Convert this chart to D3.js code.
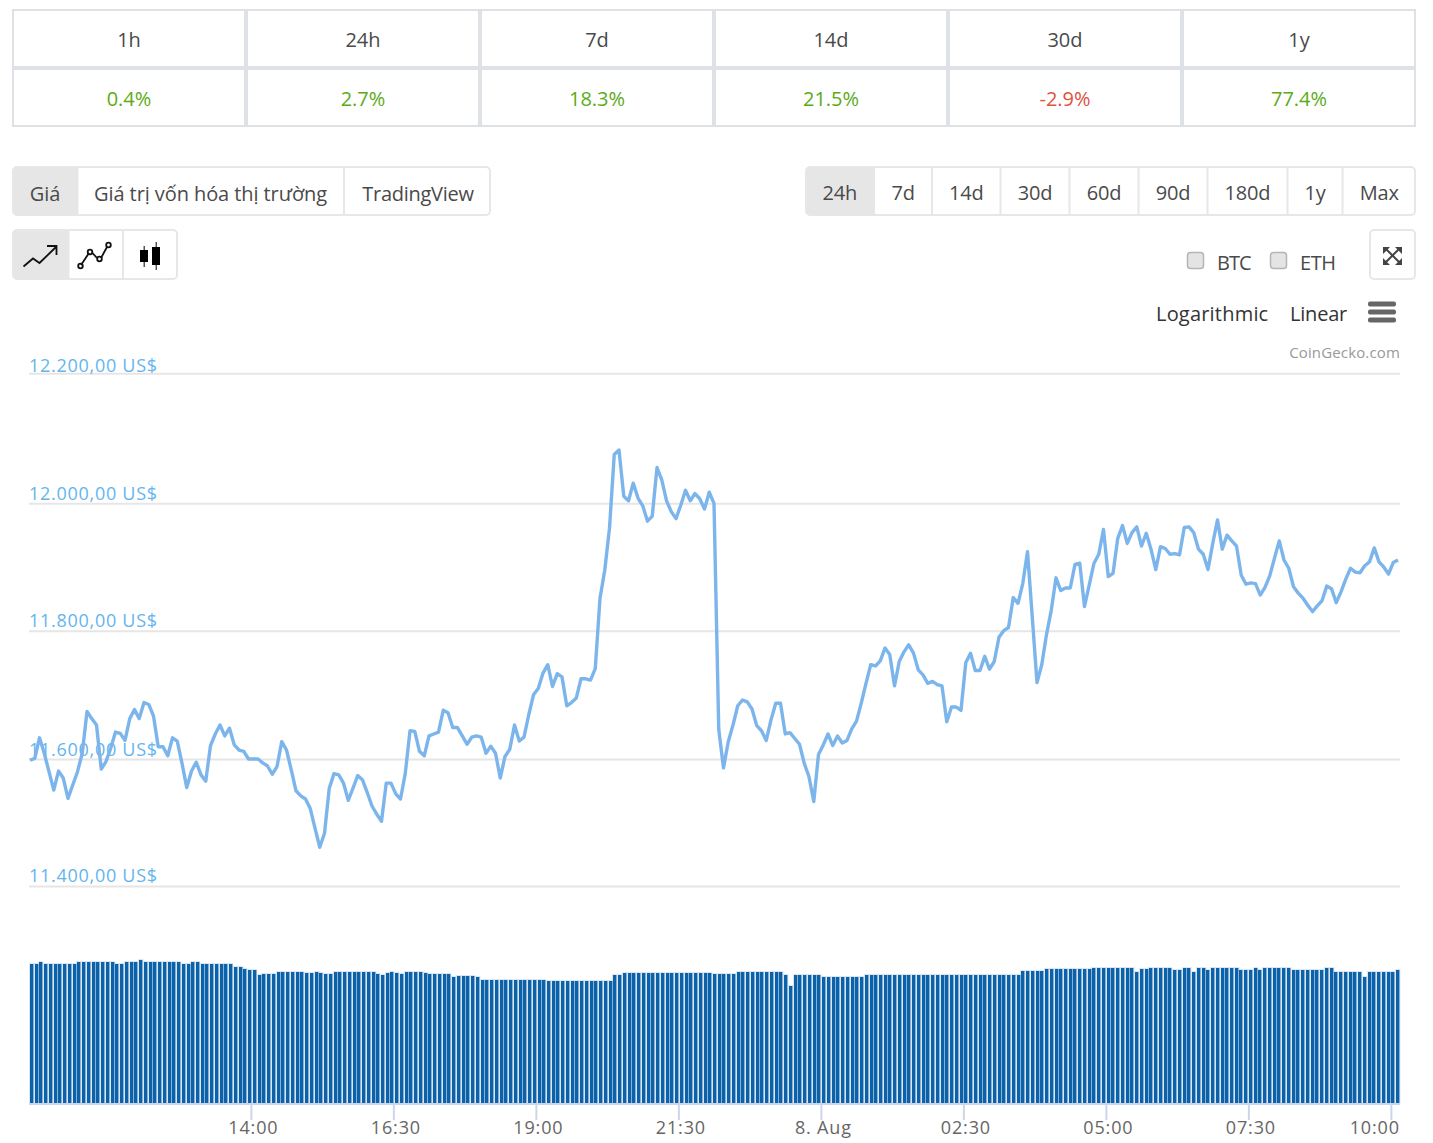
<!DOCTYPE html>
<html><head><meta charset="utf-8">
<script src="https://cdn.jsdelivr.net/npm/d3@7/dist/d3.min.js"></script>
<style>
html,body{margin:0;padding:0;background:#fff;overflow:hidden}
svg{display:block}
text{font-family:"Open Sans","Noto Sans",sans-serif}
</style></head><body>
<svg id="c" width="1433" height="1143"></svg>
<script>
const periods=["1h","24h","7d","14d","30d","1y"];
const changes=[0.4,2.7,18.3,21.5,-2.9,77.4];
const viewTabs=["Giá","Giá trị vốn hóa thị trường","TradingView"];
const rangeTabs=["24h","7d","14d","30d","60d","90d","180d","1y","Max"];
const compareCoins=["BTC","ETH"];
const scaleTabs=["Logarithmic","Linear"];
const priceTicks=[11400,11600,11800,12000,12200];
const timeTicks=["2020-08-07T14:00Z","2020-08-07T16:30Z","2020-08-07T19:00Z","2020-08-07T21:30Z","2020-08-08T00:00Z","2020-08-08T02:30Z","2020-08-08T05:00Z","2020-08-08T07:30Z","2020-08-08T10:00Z"];
const timeLabels=["14:00","16:30","19:00","21:30","8. Aug","02:30","05:00","07:30","10:00"];
const price=[11598,11601,11633,11609,11580,11551,11581,11570,11538,11559,11580,11609,11674,11663,11653,11584,11596,11617,11642,11640,
11629,11663,11677,11663,11688,11685,11667,11619,11619,11605,11633,11628,11593,11555,11581,11595,11575,11565,11621,11639,
11653,11636,11648,11622,11614,11612,11600,11600,11600,11594,11589,11576,11588,11627,11614,11583,11550,11542,11537,11522,
11491,11461,11483,11554,11577,11575,11562,11535,11554,11574,11567,11547,11526,11513,11502,11562,11562,11545,11537,11577,
11644,11643,11612,11605,11636,11639,11642,11676,11672,11649,11649,11636,11623,11634,11636,11634,11609,11620,11609,11570,
11604,11615,11653,11628,11634,11669,11700,11710,11734,11747,11713,11733,11728,11683,11688,11695,11725,11725,11723,11741,
11851,11895,11961,12075,12082,12011,12004,12031,12008,11996,11972,11980,12055,12036,12004,11987,11976,11997,12020,12004,
12015,12007,11991,12017,12000,11646,11586,11627,11653,11683,11692,11689,11678,11652,11644,11629,11661,11687,11687,11639,
11641,11632,11623,11593,11572,11533,11607,11622,11639,11621,11636,11625,11629,11647,11659,11687,11718,11747,11745,11753,
11773,11763,11714,11752,11767,11778,11765,11739,11731,11718,11721,11716,11714,11658,11681,11681,11676,11750,11765,11738,
11738,11760,11740,11752,11790,11800,11805,11852,11843,11874,11924,11822,11719,11747,11794,11832,11883,11863,11867,11867,
11904,11906,11838,11872,11906,11920,11959,11885,11890,11945,11965,11937,11954,11963,11933,11953,11928,11896,11932,11929,
11920,11921,11919,11962,11963,11954,11928,11920,11896,11937,11974,11928,11950,11941,11933,11887,11873,11875,11874,11856,
11868,11886,11914,11941,11911,11898,11869,11859,11851,11840,11830,11839,11847,11870,11866,11844,11861,11881,11898,11892,
11891,11902,11908,11930,11908,11900,11889,11907,11911];
const volume=[14.0,14.0,14.2,14.0,14.0,14.0,14.0,14.0,14.0,14.0,14.2,14.2,14.2,14.2,14.2,14.2,14.2,14.2,14.0,14.0,
14.2,14.2,14.2,14.35,14.2,14.2,14.2,14.2,14.2,14.2,14.2,14.2,14.0,14.0,14.2,14.2,14.0,14.0,14.0,14.0,
14.0,14.0,14.0,13.7,13.7,13.5,13.35,13.35,12.85,13.0,13.0,13.0,13.2,13.2,13.2,13.2,13.2,13.2,13.1,13.1,
13.2,13.1,13.0,13.0,13.2,13.2,13.2,13.2,13.2,13.2,13.2,13.2,13.2,13.0,12.9,13.1,13.2,13.1,13.0,13.2,
13.2,13.2,13.2,13.1,13.0,13.0,13.0,13.0,13.0,12.7,12.8,12.8,12.8,12.8,12.7,12.4,12.4,12.4,12.4,12.4,
12.4,12.4,12.4,12.4,12.4,12.4,12.4,12.4,12.4,12.3,12.3,12.3,12.3,12.3,12.3,12.3,12.3,12.3,12.3,12.3,
12.3,12.3,12.3,12.9,12.9,13.1,13.1,13.1,13.1,13.1,13.1,13.1,13.1,13.1,13.1,13.1,13.1,13.1,13.1,13.1,
13.1,13.1,13.1,13.1,13.0,13.0,13.0,13.0,13.0,13.2,13.2,13.2,13.2,13.2,13.2,13.2,13.2,13.2,13.2,12.9,
11.8,12.9,12.85,12.85,12.85,12.85,12.85,12.7,12.7,12.7,12.7,12.7,12.7,12.7,12.7,12.7,12.85,12.85,12.85,12.85,
12.85,12.85,12.85,12.85,12.85,12.85,12.85,12.85,12.85,12.85,12.85,12.85,12.85,12.85,12.85,12.85,12.85,12.85,12.85,12.85,
12.85,12.85,12.85,12.85,12.85,12.85,12.85,12.85,12.85,13.3,13.3,13.3,13.3,13.3,13.5,13.5,13.5,13.5,13.5,13.5,
13.5,13.5,13.5,13.5,13.6,13.6,13.6,13.6,13.6,13.6,13.6,13.6,13.6,13.2,13.5,13.5,13.52,13.52,13.52,13.52,
13.52,13.35,13.35,13.52,13.52,13.18,13.52,13.52,13.35,13.52,13.52,13.52,13.52,13.52,13.52,13.35,13.35,13.35,13.52,13.35,
13.52,13.52,13.52,13.52,13.52,13.52,13.35,13.35,13.35,13.35,13.35,13.35,13.35,13.52,13.52,13.18,13.18,13.18,13.18,13.18,
13.18,12.68,13.18,13.18,13.18,13.18,13.18,13.18,13.35];

const svg=d3.select("#c");
const textCol="#4a4a4a", grid="#e6e6e6", border="#e7e7e7";
const font=20;

// percentage table
const tblX=d3.scaleBand().domain(periods).range([12,1416]);
const tbl=svg.append("g");
tbl.append("rect").attr("x",13).attr("y",10).attr("width",1402).attr("height",116).attr("fill","#fff").attr("stroke","#dee2e6").attr("stroke-width",2);
tbl.append("line").attr("x1",12).attr("x2",1416).attr("y1",68).attr("y2",68).attr("stroke","#dee2e6").attr("stroke-width",4);
periods.slice(1).forEach(p=>tbl.append("line").attr("x1",tblX(p)).attr("x2",tblX(p)).attr("y1",10).attr("y2",126).attr("stroke","#dee2e6").attr("stroke-width",4));
periods.forEach((p,i)=>{
  const cx=tblX(p)+tblX.bandwidth()/2;
  tbl.append("text").attr("x",cx).attr("y",47).attr("text-anchor","middle").attr("font-size",font).attr("fill",textCol).text(p);
  tbl.append("text").attr("x",cx).attr("y",106).attr("text-anchor","middle").attr("font-size",font)
    .attr("fill",changes[i]<0?"#e15241":"#5bab17").text(changes[i]+"%");
});

// button groups
function group(x0,x1,y0,y1,edges,labels,baseline){
  const g=svg.append("g");
  g.append("rect").attr("x",x0+1).attr("y",y0+1).attr("width",x1-x0-2).attr("height",y1-y0-2).attr("rx",4).attr("fill","#fff").attr("stroke",border).attr("stroke-width",2);
  g.append("path").attr("d",`M${edges[1]} ${y0+1}H${x0+5}Q${x0+1} ${y0+1} ${x0+1} ${y0+5}V${y1-5}Q${x0+1} ${y1-1} ${x0+5} ${y1-1}H${edges[1]}Z`).attr("fill","#e6e6e6").attr("stroke",border).attr("stroke-width",1);
  edges.slice(2,-1).forEach(e=>g.append("line").attr("x1",e).attr("x2",e).attr("y1",y0+1).attr("y2",y1-1).attr("stroke",border).attr("stroke-width",2));
  if(labels) labels.forEach((l,i)=>g.append("text").attr("x",(edges[i]+edges[i+1])/2-(l.length>20?0.5:l.length>10?-0.5:0)).attr("y",baseline).attr("text-anchor","middle").attr("font-size",font)
    .attr("letter-spacing",l.length>20?-0.08:l.length>10?-0.27:-0.15).attr("fill",textCol).text(l));
}
group(12,491,166,216,[12,78,344,491],viewTabs,201);
group(805,1416,166,216,[805,874.5,932,1000.5,1069.5,1138.5,1207.5,1287.5,1342.5,1416],rangeTabs,200);
group(12,178,229,280,[12,69,123,178],null);

// chart type icons
const ic=svg.append("g").attr("fill","none").attr("stroke","#111").attr("stroke-width",1.8);
ic.append("path").attr("d","M23.5 266.5L33 258.5L39.5 263L56 247M47 246H56.5V255");
ic.append("path").attr("d","M81 265L89 253M92 252.500L97 258M101 258L107 247");
[[80.5,266],[90,252],[99.500,259],[108.500,245]].forEach(p=>ic.append("circle").attr("cx",p[0]).attr("cy",p[1]).attr("r",2.3));
const cs=svg.append("g");
cs.append("rect").attr("x",143.500).attr("y",246).attr("width",1.5).attr("height",21).attr("fill","#555");
cs.append("rect").attr("x",155.500).attr("y",242).attr("width",1.500).attr("height",28).attr("fill","#555");
cs.append("rect").attr("x",140).attr("y",250).attr("width",8).attr("height",12).attr("fill","#000");
cs.append("rect").attr("x",152).attr("y",247).attr("width",8).attr("height",18).attr("fill","#000");

// expand button
svg.append("rect").attr("x",1370).attr("y",230).attr("width",45).attr("height",49).attr("rx",4).attr("fill","#fff").attr("stroke",border).attr("stroke-width",2);
svg.append("path").attr("d","M1385 248L1400 263M1400 248L1385 263").attr("stroke","#444").attr("stroke-width",2).attr("fill","none");
svg.append("path").attr("d","M1383 247H1390L1383 254ZM1402 247H1395L1402 254ZM1383 265H1390L1383 258ZM1402 265H1395L1402 258Z").attr("fill","#444");

// compare checkboxes
[1187,1270].forEach((x,i)=>{
  svg.append("rect").attr("x",x+.5).attr("y",252.500).attr("width",16).attr("height",16).attr("rx",3).attr("fill","#e4e4e4").attr("stroke","#b5b5b5").attr("stroke-width",1.5);
  svg.append("text").attr("x",x+30).attr("y",270).attr("font-size",font).attr("letter-spacing",i?-0.4:-1).attr("fill",textCol).text(compareCoins[i]);
});
svg.append("text").attr("x",1156).attr("y",321).attr("font-size",font).attr("letter-spacing",0.2).attr("fill","#333").text(scaleTabs[0]);
svg.append("text").attr("x",1290).attr("y",321).attr("font-size",font).attr("letter-spacing",-0.2).attr("fill","#333").text(scaleTabs[1]);
[303,311,319].forEach(y=>svg.append("rect").attr("x",1368).attr("y",y-1.5).attr("width",28).attr("height",5).attr("rx",2).attr("fill","#666"));
svg.append("text").attr("x",1400).attr("y",358).attr("text-anchor","end").attr("font-size",15).attr("letter-spacing",0.15).attr("fill","#999").text("CoinGecko.com");

// scales
const t0=d3.isoParse("2020-08-07T10:07:30Z");
const times=price.map((_,i)=>d3.utcMinute.offset(t0,i*5));
const x=d3.scaleUtc().domain([times[0],times[times.length-1]]).range([30,1398]);
const xv=d3.scaleUtc().domain(x.domain()).range([30,1396]);
const y=d3.scaleLinear().domain(priceTicks).range([886,759,630.7,503.3,373.3]);
const v=d3.scaleLinear().domain([0,14]).range([1103.5,963.5]);

// grid and price labels
const yAxis=d3.axisRight(y).tickValues(priceTicks).tickSize(1371)
  .tickFormat(d=>d3.format(",")(d).replace(",",".")+",00 US$");
const ya=svg.append("g").attr("transform","translate(29,0)").call(yAxis);
ya.select(".domain").remove();
ya.selectAll(".tick line").attr("stroke",grid).attr("stroke-width",2);
ya.selectAll(".tick text").attr("x",0).attr("dy",d=>d===12200?-2:d===11400?-5:-4).attr("text-anchor","start").attr("font-size",18).attr("letter-spacing",0.72).attr("fill","#64b5ed").attr("font-family","'Open Sans'");

// price line
svg.append("path").datum(price).attr("fill","none").attr("stroke","#7cb5ec").attr("stroke-width",3.4).attr("stroke-linejoin","round")
  .attr("d",d3.line().x((_,i)=>x(times[i])).y(d=>y(d)));

// volume
const volG=svg.append("g");
volG.append("g").selectAll("rect").data(volume).join("rect")
  .attr("x",(_,i)=>Math.round(xv(times[i]))-1).attr("width",5.4)
  .attr("y",d=>Math.round(v(d))-1).attr("height",d=>1104-Math.round(v(d))+1)
  .attr("fill","#dbe6f4");
volG.append("g").selectAll("rect").data(volume).join("rect")
  .attr("x",(_,i)=>Math.round(xv(times[i]))).attr("width",3.4)
  .attr("y",d=>Math.round(v(d))).attr("height",d=>1104-Math.round(v(d)))
  .attr("fill","#0b62a9");

// time axis
const xAxis=d3.axisBottom(x).tickValues(timeTicks.map(d3.isoParse)).tickSize(16)
  .tickFormat((_,i)=>timeLabels[i]);
const xa=svg.append("g").attr("transform","translate(0,1104)").call(xAxis);
xa.select(".domain").attr("d","M29 0H1400").attr("stroke","#ccd6eb").attr("stroke-width",2);
xa.selectAll(".tick line").attr("stroke","#ccd6eb").attr("stroke-width",2);
xa.selectAll(".tick text").attr("y",0).attr("dy",30).attr("dx",2).attr("font-size",18).attr("letter-spacing",0.85).attr("fill","#666").attr("font-family","'Open Sans'");
xa.selectAll(".tick:last-of-type text").attr("text-anchor","end").attr("dx",8.5);
</script></body></html>
